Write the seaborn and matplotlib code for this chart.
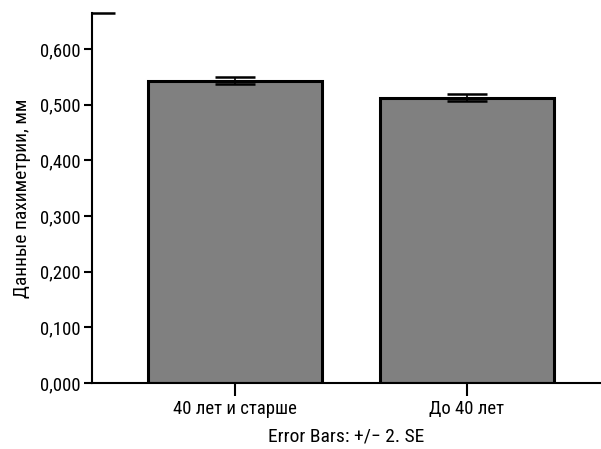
import matplotlib
matplotlib.use("Agg")
import matplotlib.pyplot as plt
import seaborn as sns
import pandas as pd
from matplotlib.ticker import FixedLocator, FuncFormatter

categories = ["40 лет и старше", "До 40 лет"]
means = [0.543, 0.513]
errors = [0.0065, 0.007]
yticks = [0.0, 0.1, 0.2, 0.3, 0.4, 0.5, 0.6]

sns.set_theme(style="ticks")
plt.rcParams['font.family'] = ['Roboto Condensed', 'DejaVu Sans']

df = pd.DataFrame({"cat": categories, "val": means})

fig = plt.figure(figsize=(6.01, 4.49), dpi=100)
ax = fig.add_axes([92/601, 1-383/449, (600-92)/601, (383-13)/449])
sns.barplot(data=df, x="cat", y="val", color="#808080", saturation=1,
            edgecolor="black", linewidth=2.2, width=0.75, errorbar=None, ax=ax)
ax.errorbar(x=range(len(categories)), y=means, yerr=errors, fmt='none',
            ecolor='black', elinewidth=1.2, capsize=14.4, capthick=1.8, zorder=5)

ax.set_xlim(-0.616, 1.573)
ax.set_ylim(0, 0.665)
ax.yaxis.set_major_locator(FixedLocator(yticks))
ax.yaxis.set_major_formatter(FuncFormatter(lambda v, p: f"{v:.3f}".replace(".", ",")))
ax.set_xticks(range(len(categories)))
ax.set_xticklabels(categories)
ax.tick_params(axis='both', labelsize=13.5, width=1.5, color='black', labelcolor='black')
ax.tick_params(axis='y', length=6, pad=2)
ax.tick_params(axis='x', length=9, pad=3)
for s in ["top", "right"]:
    ax.spines[s].set_visible(False)
for s in ["left", "bottom"]:
    ax.spines[s].set_linewidth(1.5)
    ax.spines[s].set_color("black")
ax.plot([0, 23/508], [1, 1], transform=ax.transAxes, color="black", lw=1.8,
        clip_on=False, solid_capstyle='butt')
ax.set_xlabel("Error Bars: +/− 2. SE", fontsize=14, color="black", labelpad=7)
ax.set_ylabel("Данные пахиметрии, мм", fontsize=14, color="black", labelpad=7)
ax.set_facecolor("white")
fig.patch.set_facecolor("white")
fig.savefig("out.png", dpi=100)
